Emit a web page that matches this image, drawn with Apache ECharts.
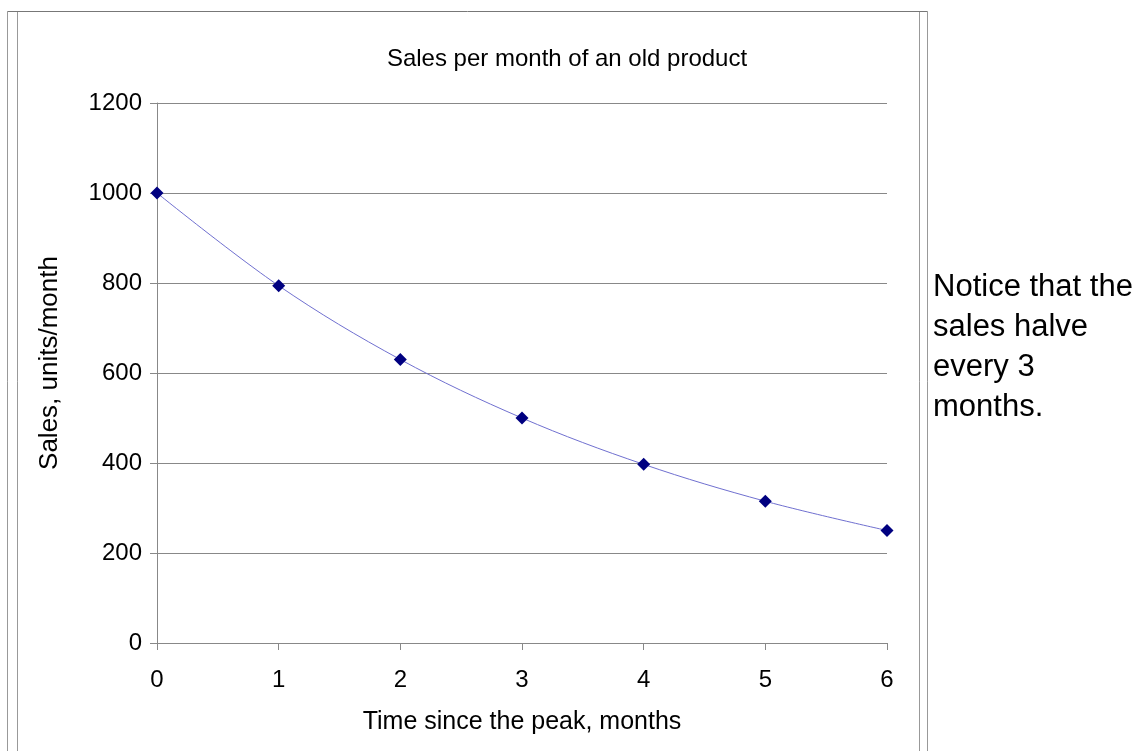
<!DOCTYPE html>
<html>
<head>
<meta charset="utf-8">
<script src="https://cdn.jsdelivr.net/npm/echarts@6/dist/echarts.min.js"></script>
<style>
html,body{margin:0;padding:0;background:#fff;}
#chart{width:1140px;height:751px;}
</style>
</head>
<body>
<div id="chart"></div>
<script>
const months = [0, 1, 2, 3, 4, 5, 6];
const sales = [1000, 794, 630, 500, 397, 315, 250];
const yTicks = [0, 200, 400, 600, 800, 1000, 1200];
const titleText = 'Sales per month of an old product';
const xName = 'Time since the peak, months';
const yName = 'Sales, units/month';
const noteLines = ['Notice that the', 'sales halve', 'every 3', 'months.'];

const font = 'Liberation Sans, Arial, sans-serif';
const chart = echarts.init(document.getElementById('chart'));
chart.setOption({
  animation: false,
  backgroundColor: '#fff',
  title: {
    text: titleText, left: 562, top: 42, textAlign: 'center',
    textStyle: {fontFamily: font, fontSize: 24, fontWeight: 'normal', color: '#000'}
  },
  grid: {left: 157, right: 253, top: 103, bottom: 108, containLabel: false},
  xAxis: {
    type: 'value', min: 0, max: 6, interval: 1,
    name: xName, nameLocation: 'middle', nameGap: 67,
    nameTextStyle: {fontFamily: font, fontSize: 25, color: '#000'},
    axisLine: {show: true, lineStyle: {color: '#888', width: 1}},
    axisTick: {show: true, length: 7, lineStyle: {color: '#888'}},
    axisLabel: {fontFamily: font, fontSize: 24, color: '#000', margin: 25},
    splitLine: {show: false}
  },
  yAxis: {
    type: 'value', min: 0, max: 1200, interval: 200,
    axisLine: {show: true, lineStyle: {color: '#888', width: 1}},
    axisTick: {show: true, length: 7, lineStyle: {color: '#888'}},
    axisLabel: {fontFamily: font, fontSize: 24, color: '#000', margin: 15,
      formatter: v => yTicks.includes(v) ? String(v) : ''},
    splitLine: {show: true, lineStyle: {color: '#888', width: 1}}
  },
  series: [{
    type: 'line',
    data: months.map((m, i) => [m, sales[i]]),
    smooth: 0.35,
    symbol: 'diamond', symbolSize: 13,
    itemStyle: {color: '#000080'},
    lineStyle: {color: '#7070d0', width: 1}
  }],
  graphic: [
    {type: 'line', shape: {x1: 7.5, y1: 11.5, x2: 7.5, y2: 751}, style: {stroke: '#999', lineWidth: 1}},
    {type: 'line', shape: {x1: 17.5, y1: 11.5, x2: 17.5, y2: 751}, style: {stroke: '#999', lineWidth: 1}},
    {type: 'line', shape: {x1: 919.5, y1: 11.5, x2: 919.5, y2: 751}, style: {stroke: '#999', lineWidth: 1}},
    {type: 'line', shape: {x1: 927.5, y1: 11.5, x2: 927.5, y2: 751}, style: {stroke: '#999', lineWidth: 1}},
    {type: 'line', shape: {x1: 7.5, y1: 11.5, x2: 927.5, y2: 11.5}, style: {stroke: '#777', lineWidth: 1}},
    {type: 'text', x: 50, y: 363, rotation: Math.PI / 2,
      style: {text: yName, font: '26px ' + font, fill: '#000', align: 'center', verticalAlign: 'middle'}},
    {type: 'text', left: 933, top: 267,
      style: {text: noteLines.join('\n'), font: '31px ' + font, fill: '#000', lineHeight: 40}}
  ]
});
</script>
</body>
</html>
